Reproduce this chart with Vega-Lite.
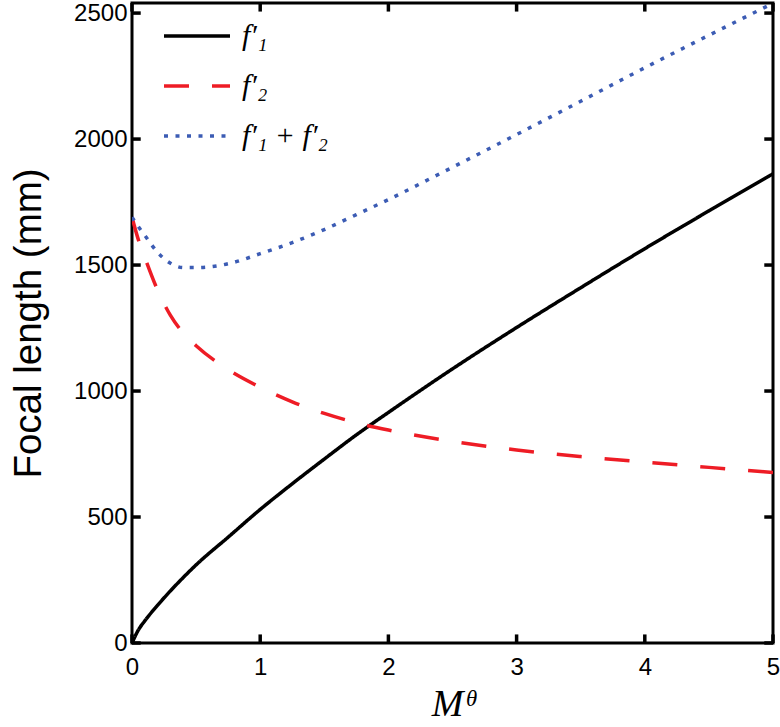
{
  "$schema": "https://vega.github.io/schema/vega-lite/v6.json",
  "width": 641,
  "height": 640,
  "autosize": {"type": "none"},
  "padding": {"left": 132, "top": 3, "right": 7, "bottom": 84},
  "background": "white",
  "config": {
    "view": {"stroke": "black", "strokeWidth": 3},
    "axis": {
      "domain": false,
      "grid": false,
      "ticks": false,
      "labelFont": "Liberation Sans",
      "labelColor": "black",
      "labelFlush": false,
      "labelOverlap": false,
      "titleColor": "black",
      "format": "d"
    }
  },
  "datasets": {
    "curves": [
      {"M": 0, "value": 0, "series": "f1"},
      {"M": 0.05, "value": 52, "series": "f1"},
      {"M": 0.1, "value": 88, "series": "f1"},
      {"M": 0.2, "value": 150, "series": "f1"},
      {"M": 0.3, "value": 207, "series": "f1"},
      {"M": 0.4, "value": 260, "series": "f1"},
      {"M": 0.5, "value": 310, "series": "f1"},
      {"M": 0.75, "value": 420, "series": "f1"},
      {"M": 1, "value": 530, "series": "f1"},
      {"M": 1.25, "value": 632, "series": "f1"},
      {"M": 1.5, "value": 730, "series": "f1"},
      {"M": 1.75, "value": 826, "series": "f1"},
      {"M": 2, "value": 915, "series": "f1"},
      {"M": 2.5, "value": 1088, "series": "f1"},
      {"M": 3, "value": 1252, "series": "f1"},
      {"M": 3.5, "value": 1410, "series": "f1"},
      {"M": 4, "value": 1565, "series": "f1"},
      {"M": 4.5, "value": 1715, "series": "f1"},
      {"M": 5, "value": 1862, "series": "f1"},
      {"M": 0, "value": 1690, "series": "f2"},
      {"M": 0.05, "value": 1600, "series": "f2"},
      {"M": 0.1, "value": 1530, "series": "f2"},
      {"M": 0.2, "value": 1400, "series": "f2"},
      {"M": 0.3, "value": 1300, "series": "f2"},
      {"M": 0.4, "value": 1230, "series": "f2"},
      {"M": 0.5, "value": 1180, "series": "f2"},
      {"M": 0.75, "value": 1085, "series": "f2"},
      {"M": 1, "value": 1015, "series": "f2"},
      {"M": 1.25, "value": 957, "series": "f2"},
      {"M": 1.5, "value": 911, "series": "f2"},
      {"M": 1.75, "value": 874, "series": "f2"},
      {"M": 2, "value": 845, "series": "f2"},
      {"M": 2.5, "value": 800, "series": "f2"},
      {"M": 3, "value": 766, "series": "f2"},
      {"M": 3.5, "value": 740, "series": "f2"},
      {"M": 4, "value": 718, "series": "f2"},
      {"M": 4.5, "value": 697, "series": "f2"},
      {"M": 5, "value": 677, "series": "f2"},
      {"M": 0, "value": 1690, "series": "sum"},
      {"M": 0.05, "value": 1652, "series": "sum"},
      {"M": 0.1, "value": 1618, "series": "sum"},
      {"M": 0.2, "value": 1550, "series": "sum"},
      {"M": 0.3, "value": 1507, "series": "sum"},
      {"M": 0.4, "value": 1490, "series": "sum"},
      {"M": 0.5, "value": 1490, "series": "sum"},
      {"M": 0.75, "value": 1505, "series": "sum"},
      {"M": 1, "value": 1545, "series": "sum"},
      {"M": 1.25, "value": 1589, "series": "sum"},
      {"M": 1.5, "value": 1641, "series": "sum"},
      {"M": 1.75, "value": 1700, "series": "sum"},
      {"M": 2, "value": 1760, "series": "sum"},
      {"M": 2.5, "value": 1888, "series": "sum"},
      {"M": 3, "value": 2018, "series": "sum"},
      {"M": 3.5, "value": 2150, "series": "sum"},
      {"M": 4, "value": 2283, "series": "sum"},
      {"M": 4.5, "value": 2412, "series": "sum"},
      {"M": 5, "value": 2539, "series": "sum"}
    ],
    "xticks": [{"t": 0}, {"t": 1}, {"t": 2}, {"t": 3}, {"t": 4}, {"t": 5}],
    "yticks": [{"t": 0}, {"t": 500}, {"t": 1000}, {"t": 1500}, {"t": 2000}, {"t": 2500}]
  },
  "layer": [
    {
      "data": {"name": "xticks"},
      "mark": {"type": "rule", "strokeWidth": 3.5, "color": "#000000", "opacity": 1},
      "encoding": {
        "x": {
          "field": "t", "type": "quantitative",
          "scale": {"domain": [0, 5], "nice": false},
          "axis": {
            "values": [0, 1, 2, 3, 4, 5],
            "labelFontSize": 24,
            "labelPadding": 12,
            "title": "Mᶿ",
            "titleFont": "Liberation Serif",
            "titleFontStyle": "italic",
            "titleFontWeight": "normal",
            "titleFontSize": 38,
            "titlePadding": 6
          }
        },
        "y": {
          "datum": 0, "type": "quantitative",
          "scale": {"domain": [0, 2540], "nice": false},
          "axis": {
            "values": [0, 500, 1000, 1500, 2000, 2500],
            "labelFontSize": 24,
            "labelPadding": 5,
            "title": "Focal length (mm)",
            "titleFont": "Liberation Sans",
            "titleFontWeight": "normal",
            "titleFontSize": 38.5,
            "titlePadding": 25
          }
        },
        "y2": {"datum": 34}
      }
    },
    {
      "data": {"name": "xticks"},
      "mark": {"type": "rule", "strokeWidth": 3.5, "color": "#000000", "opacity": 1},
      "encoding": {
        "x": {"field": "t", "type": "quantitative"},
        "y": {"datum": 2540, "type": "quantitative"},
        "y2": {"datum": 2506}
      }
    },
    {
      "data": {"name": "yticks"},
      "mark": {"type": "rule", "strokeWidth": 3.5, "color": "#000000", "opacity": 1},
      "encoding": {
        "y": {"field": "t", "type": "quantitative"},
        "x": {"datum": 0, "type": "quantitative"},
        "x2": {"datum": 0.068}
      }
    },
    {
      "data": {"name": "yticks"},
      "mark": {"type": "rule", "strokeWidth": 3.5, "color": "#000000", "opacity": 1},
      "encoding": {
        "y": {"field": "t", "type": "quantitative"},
        "x": {"datum": 5, "type": "quantitative"},
        "x2": {"datum": 4.932}
      }
    },
    {
      "data": {"name": "curves"},
      "mark": {"type": "line", "strokeWidth": 3.5, "interpolate": "monotone", "clip": true},
      "encoding": {
        "x": {"field": "M", "type": "quantitative"},
        "y": {"field": "value", "type": "quantitative"},
        "color": {
          "field": "series", "type": "nominal",
          "scale": {"domain": ["f1", "f2", "sum"], "range": ["#000000", "#ee1c25", "#3c5cb4"]},
          "legend": {
            "orient": "none",
            "legendX": 30,
            "legendY": -2,
            "title": null,
            "symbolType": "stroke",
            "symbolSize": 4356,
            "symbolStrokeWidth": 3.5,
            "labelFont": "Liberation Serif",
            "labelFontStyle": "italic",
            "labelFontSize": 30,
            "labelColor": "black",
            "labelOffset": 10,
            "rowPadding": -22,
            "labelExpr": "datum.value == 'f1' ? 'f′₁' : datum.value == 'f2' ? 'f′₂' : 'f′₁ + f′₂'"
          }
        },
        "strokeDash": {
          "field": "series", "type": "nominal",
          "scale": {"domain": ["f1", "f2", "sum"], "range": [[1, 0], [25, 23], [4, 7.5]]},
          "legend": null
        }
      }
    }
  ]
}
